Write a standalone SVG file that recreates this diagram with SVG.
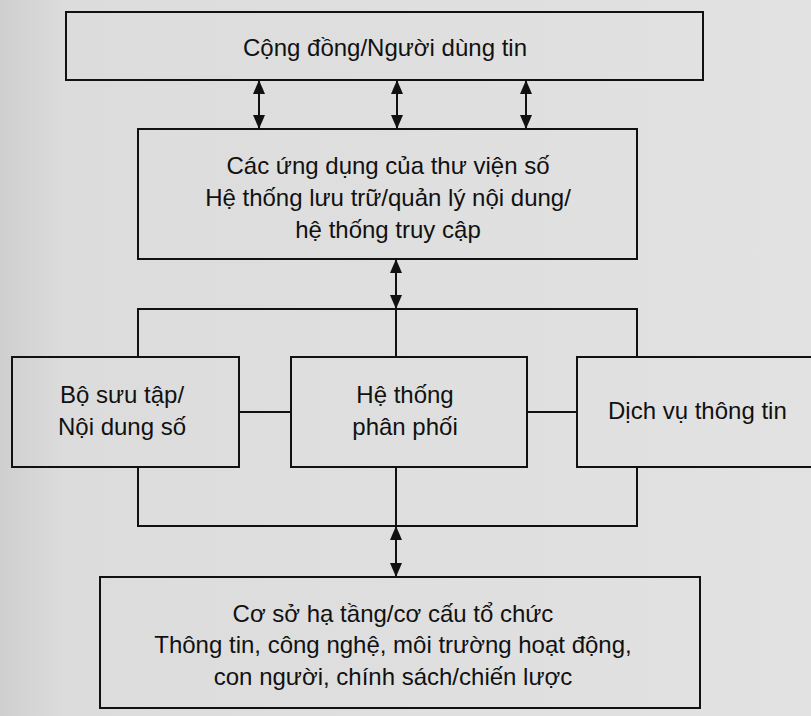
<svg xmlns="http://www.w3.org/2000/svg" width="811" height="716" viewBox="0 0 811 716">
<defs>
<linearGradient id="paper" x1="0" y1="0" x2="1" y2="0">
<stop offset="0" stop-color="#cfcfcf"/>
<stop offset="0.08" stop-color="#dcdcdc"/>
<stop offset="1" stop-color="#e2e2e2"/>
</linearGradient>
<marker id="ah" viewBox="0 0 12 14" markerWidth="12" markerHeight="14" refX="6" refY="14" markerUnits="userSpaceOnUse" orient="auto-start-reverse">
<path d="M0,0 L12,0 L6,14 Z" fill="#111" transform="rotate(-90 6 7) translate(-1 1)"/>
</marker>
<marker id="arr" viewBox="0 0 14 12" markerWidth="14" markerHeight="12" refX="14" refY="6" markerUnits="userSpaceOnUse" orient="auto-start-reverse">
<path d="M0,0 L14,6 L0,12 Z" fill="#111"/>
</marker>
</defs>
<style>
.box{fill:none;stroke:#111;stroke-width:2}
.ln{fill:none;stroke:#111;stroke-width:2}
.ar{fill:none;stroke:#111;stroke-width:2;marker-start:url(#arr);marker-end:url(#arr)}
.t{font-family:"Liberation Sans",Arial,sans-serif;font-size:24px;fill:#111}
.c{text-anchor:middle}
</style>
<rect x="0" y="0" width="811" height="716" fill="url(#paper)"/>
<g id="connectors">
<line class="ar" x1="259" y1="80" x2="259" y2="129"/>
<line class="ar" x1="397" y1="80" x2="397" y2="129"/>
<line class="ar" x1="526" y1="80" x2="526" y2="129"/>
<line class="ar" x1="396" y1="259" x2="396" y2="309"/>
<polyline class="ln" points="138,357 138,309 637,309 637,357"/>
<line class="ln" x1="396" y1="309" x2="396" y2="357"/>
<line class="ln" x1="239" y1="412" x2="291" y2="412"/>
<line class="ln" x1="527" y1="412" x2="577" y2="412"/>
<polyline class="ln" points="138,467 138,526 637,526 637,467"/>
<line class="ln" x1="396" y1="467" x2="396" y2="526"/>
<line class="ar" x1="396" y1="526" x2="396" y2="577"/>
</g>
<g id="node-community">
<rect class="box" x="66" y="12" width="637" height="68"/>
<text class="t c" x="385" y="56">Cộng đồng/Người dùng tin</text>
</g>
<g id="node-applications">
<rect class="box" x="138" y="129" width="499" height="130"/>
<text class="t c" x="388" y="174">Các ứng dụng của thư viện số</text>
<text class="t c" x="388" y="206">Hệ thống lưu trữ/quản lý nội dung/</text>
<text class="t c" x="388" y="238">hệ thống truy cập</text>
</g>
<g id="node-collection">
<rect class="box" x="12" y="357" width="227" height="110"/>
<text class="t c" x="122" y="403">Bộ sưu tập/</text>
<text class="t c" x="122" y="435">Nội dung số</text>
</g>
<g id="node-distribution">
<rect class="box" x="291" y="357" width="236" height="110"/>
<text class="t c" x="405" y="403">Hệ thống</text>
<text class="t c" x="405" y="435">phân phối</text>
</g>
<g id="node-services">
<rect class="box" x="577" y="357" width="260" height="110"/>
<text class="t" x="608" y="419">Dịch vụ thông tin</text>
</g>
<g id="node-infrastructure">
<rect class="box" x="100" y="577" width="600" height="131"/>
<text class="t c" x="393" y="622">Cơ sở hạ tầng/cơ cấu tổ chức</text>
<text class="t c" x="393" y="653">Thông tin, công nghệ, môi trường hoạt động,</text>
<text class="t c" x="393" y="685">con người, chính sách/chiến lược</text>
</g>
</svg>
